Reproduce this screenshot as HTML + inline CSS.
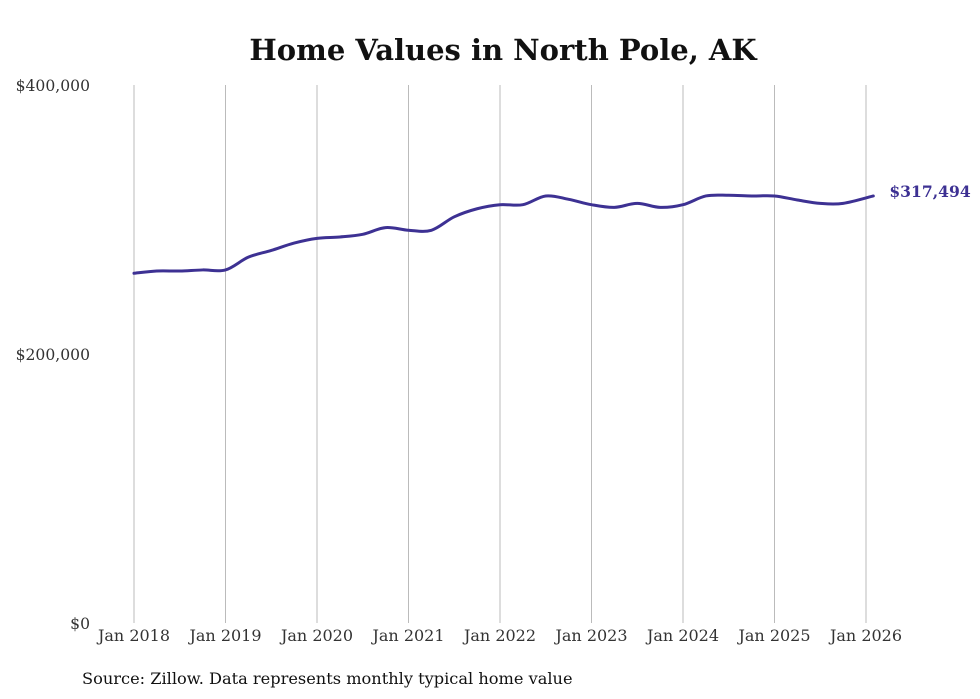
<!DOCTYPE html>
<html><head><meta charset="utf-8"><style>
body{margin:0;background:#fff;}
svg{display:block;font-family:"DejaVu Serif","Liberation Serif",serif;}
</style></head><body>
<svg id="chart" width="980" height="699" viewBox="0 0 980 699">
<text x="503" y="60" text-anchor="middle" font-size="29" font-weight="bold" fill="#111">Home Values in North Pole, AK</text>
<g id="grid"></g><g id="yaxis"></g><g id="xaxis"></g><g id="series"></g>
<text x="82" y="684" font-size="16.2" fill="#111">Source: Zillow. Data represents monthly typical home value</text>
</svg>
<script>
const xTickLabels=["Jan 2018","Jan 2019","Jan 2020","Jan 2021","Jan 2022","Jan 2023","Jan 2024","Jan 2025","Jan 2026"];
const xTickYears=[2018,2019,2020,2021,2022,2023,2024,2025,2026];
const yTicks=[0,200000,400000];
const yTickLabels=["$0","$200,000","$400,000"];
const dates=[2018,2018.25,2018.5,2018.75,2019,2019.25,2019.5,2019.75,2020,2020.25,2020.5,2020.75,2021,2021.25,2021.5,2021.75,2022,2022.25,2022.5,2022.75,2023,2023.25,2023.5,2023.75,2024,2024.25,2024.5,2024.75,2025,2025.25,2025.5,2025.75,2026.08];
const values=[260000,261700,261700,262500,262500,272000,277000,282500,286000,287000,289000,294000,292000,292000,302000,308000,311000,311000,317500,315000,311000,309000,312000,309000,311000,317500,318000,317500,317500,314500,312000,312000,317494];
const lastLabel="$317,494";
const NS="http://www.w3.org/2000/svg";
const x=d=>134+(d-2018)*91.5;
const y=v=>623-v*(538/400000);
function mk(tag,attrs,parent,text){const e=document.createElementNS(NS,tag);for(const k in attrs)e.setAttribute(k,attrs[k]);if(text!==undefined)e.textContent=text;document.getElementById(parent).appendChild(e);return e;}
xTickYears.forEach((yr,i)=>{
 const g=mk('line',{x1:x(yr),x2:x(yr),y1:85,y2:623,stroke:'#bbb','stroke-width':1},'grid');
 
 
 const t=mk('text',{x:x(yr),y:641,'text-anchor':'middle','font-size':16,fill:'#333'},'xaxis',xTickLabels[i]);
 
 
});
yTicks.forEach((v,i)=>{
 const t=mk('text',{x:90,y:y(v)+6,'text-anchor':'end','font-size':15.6,fill:'#333'},'yaxis',yTickLabels[i]);
 
 
});
const pts=dates.map((d,i)=>[x(d),y(values[i])]);
let p=`M${pts[0][0]},${pts[0][1]}`;
for(let i=0;i<pts.length-1;i++){const p0=pts[Math.max(0,i-1)],p1=pts[i],p2=pts[i+1],p3=pts[Math.min(pts.length-1,i+2)];
 p+=` C${p1[0]+(p2[0]-p0[0])/6},${p1[1]+(p2[1]-p0[1])/6} ${p2[0]-(p3[0]-p1[0])/6},${p2[1]-(p3[1]-p1[1])/6} ${p2[0]},${p2[1]}`;}
const line=mk('path',{d:p,fill:'none',stroke:'#3d3193','stroke-width':3,'stroke-linejoin':'round','stroke-linecap':'round'},'series');


const last=pts[pts.length-1];
const lbl=mk('text',{x:last[0]+16,y:last[1]+1,'font-size':15.6,'font-weight':'bold',fill:'#3d3193'},'series',lastLabel);


</script>
</body></html>
